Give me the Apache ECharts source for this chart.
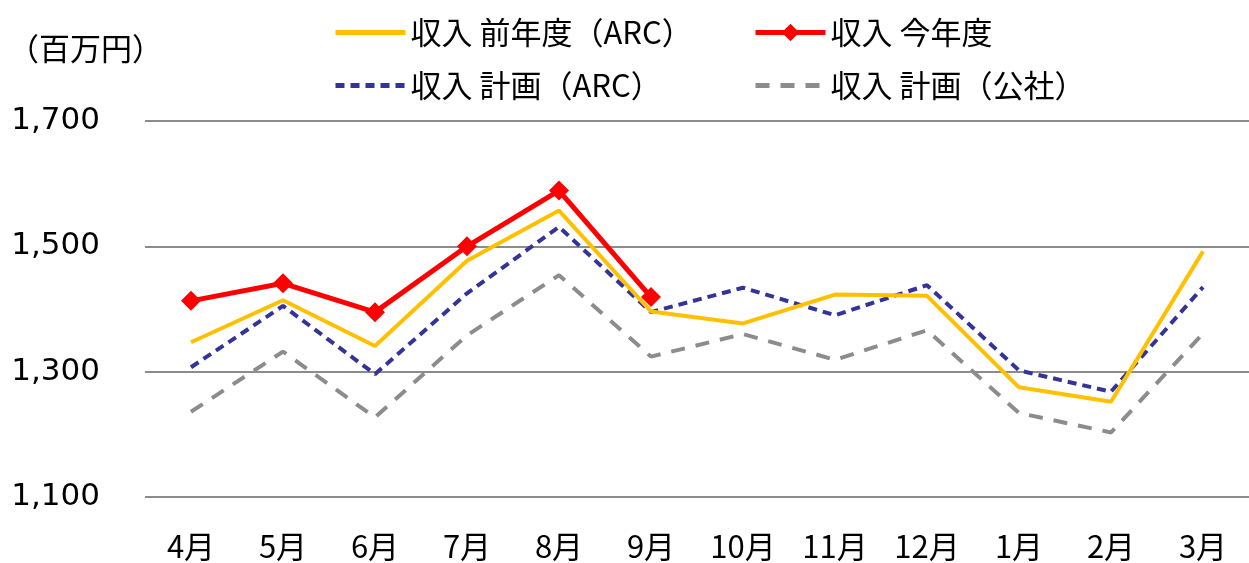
<!DOCTYPE html>
<html>
<head>
<meta charset="utf-8">
<script src="https://cdn.jsdelivr.net/npm/echarts@6/dist/echarts.min.js"></script>
<style>
  html, body { margin: 0; padding: 0; background: #fff; }
  #chart { width: 1249px; height: 563px; }
</style>
</head>
<body>
<div id="chart"></div>
<script>
// 月（年度順）
const months = ["4月", "5月", "6月", "7月", "8月", "9月", "10月", "11月", "12月", "1月", "2月", "3月"];
// 収入 前年度（ARC）
const prevYear = [1347, 1414, 1341, 1477, 1557, 1396, 1377, 1423, 1421, 1275, 1252, 1492];
// 収入 今年度（9月まで）
const thisYear = [1413, 1441, 1395, 1500, 1589, 1419];
// 収入 計画（ARC）
const planArc = [1307, 1405, 1296, 1425, 1531, 1395, 1434, 1390, 1438, 1302, 1268, 1435];
// 収入 計画（公社）
const planKosha = [1236, 1332, 1227, 1358, 1454, 1324, 1360, 1319, 1366, 1234, 1203, 1361];

const yTicks = { min: 1100, max: 1700, interval: 200 };

const font = "'Noto Sans CJK JP', 'DejaVu Sans', sans-serif";
const legendText = { fontSize: 31, color: "#000", fontFamily: font };

function oneLegend(name, left, top, withMarker) {
  return {
    data: [{
      name: name,
      itemStyle: withMarker ? {} : { opacity: 0 }
    }],
    left: left,
    top: top,
    itemWidth: 70,
    itemHeight: 22,
    itemGap: 0,
    textStyle: legendText,
    lineStyle: { width: 5 },
    selectedMode: false
  };
}

const chart = echarts.init(document.getElementById("chart"));
chart.setOption({
  animation: false,
  graphic: [
    {
      type: "text",
      left: 8,
      top: 33,
      style: { text: "（百万円）", fontSize: 31, fontFamily: font, fill: "#000" }
    }
  ],
  legend: [
    oneLegend("収入 前年度（ARC）", 328, 12, false),
    oneLegend("収入 今年度", 748, 12, true),
    oneLegend("収入 計画（ARC）", 328, 65, false),
    oneLegend("収入 計画（公社）", 748, 65, false)
  ],
  grid: { left: 145, top: 121, width: 1126, height: 376 },
  xAxis: {
    type: "category",
    data: months,
    boundaryGap: true,
    axisLine: { show: false },
    axisTick: { show: false },
    axisLabel: { color: "#000", fontSize: 31, fontFamily: font, margin: 34 }
  },
  yAxis: {
    type: "value",
    min: yTicks.min,
    max: yTicks.max,
    interval: yTicks.interval,
    axisLine: { show: false },
    axisTick: { show: false },
    splitLine: { lineStyle: { color: "#8c8c8c", width: 2 } },
    axisLabel: {
      color: "#000",
      fontSize: 31,
      fontFamily: "'DejaVu Sans', sans-serif",
      margin: 45,
      formatter: (v) => v.toLocaleString("en-US")
    }
  },
  series: [
    {
      name: "収入 前年度（ARC）",
      type: "line",
      data: prevYear,
      symbol: "none",
      z: 3,
      itemStyle: { color: "#FFC000" },
      lineStyle: { color: "#FFC000", width: 4 }
    },
    {
      name: "収入 計画（ARC）",
      type: "line",
      data: planArc,
      symbol: "none",
      z: 2,
      itemStyle: { color: "#333399" },
      lineStyle: { color: "#333399", width: 4, type: [9, 6] }
    },
    {
      name: "収入 計画（公社）",
      type: "line",
      data: planKosha,
      symbol: "none",
      z: 1,
      itemStyle: { color: "#8c8c8c" },
      lineStyle: { color: "#8c8c8c", width: 4, type: [14, 11] }
    },
    {
      name: "収入 今年度",
      type: "line",
      data: thisYear,
      symbol: "diamond",
      symbolSize: 20,
      z: 4,
      itemStyle: { color: "#FF0000" },
      lineStyle: { color: "#FF0000", width: 5 }
    }
  ]
});
</script>
</body>
</html>
